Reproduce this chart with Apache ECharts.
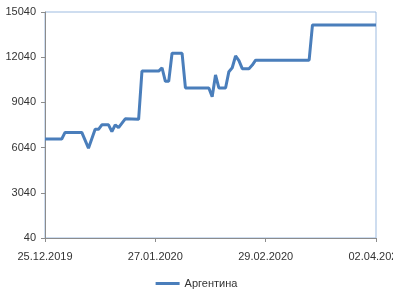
<!doctype html>
<html lang="ru">
<head>
    <meta charset="UTF-8" />
    <title>Аргентина</title>
    <script src="https://cdn.jsdelivr.net/npm/echarts@6/dist/echarts.min.js"></script>
    <style>
        html, body { margin: 0; padding: 0; background: #fff; }
        #chart { width: 393px; height: 296px; }
    </style>
</head>
<body>
    <div id="chart"></div>
    <script type="text/javascript">
        // даты изменения значения (дд.мм.гггг) и значения ряда
        var dates = ['25.12.2019', '30.12.2019', '31.12.2019', '05.01.2020', '07.01.2020', '09.01.2020',
            '10.01.2020', '11.01.2020', '13.01.2020', '14.01.2020', '15.01.2020', '16.01.2020',
            '18.01.2020', '22.01.2020', '23.01.2020', '28.01.2020', '29.01.2020', '30.01.2020',
            '31.01.2020', '01.02.2020', '04.02.2020', '05.02.2020', '12.02.2020', '13.02.2020',
            '14.02.2020', '15.02.2020', '17.02.2020', '18.02.2020', '19.02.2020', '20.02.2020',
            '21.02.2020', '22.02.2020', '24.02.2020', '25.02.2020', '26.02.2020', '13.03.2020',
            '14.03.2020', '02.04.2020'];
        var argentina = [6610, 6610, 7050, 7050, 6000, 7250,
            7250, 7550, 7550, 7100, 7550, 7360,
            7950, 7920, 11120, 11120, 11340, 10440,
            10440, 12300, 12300, 10000, 10000, 9420,
            10860, 10000, 10000, 11080, 11340, 12120,
            11810, 11280, 11280, 11520, 11840, 11840,
            14180, 14180];
        var seriesName = 'Аргентина';
        var startDate = '25.12.2019';
        var endDate = '02.04.2020';
        var dayStep = 33;

        var DAY = 24 * 3600 * 1000;
        function parseDate(s) {
            var p = s.split('.');
            return Date.UTC(+p[2], +p[1] - 1, +p[0]);
        }
        function pad(n) { return (n < 10 ? '0' : '') + n; }
        var t0 = parseDate(startDate);
        var total = Math.round((parseDate(endDate) - t0) / DAY);

        var data = dates.map(function (d, i) {
            return [Math.round((parseDate(d) - t0) / DAY), argentina[i]];
        });

        var chart = echarts.init(document.getElementById('chart'));
        var font = 'Liberation Sans, Arial, sans-serif';

        chart.setOption({
            animation: false,
            grid: {
                left: 45, right: 17, top: 12, bottom: 58,
                containLabel: false,
                outerBoundsMode: 'none',
                show: true,
                borderColor: '#9dbbe0',
                borderWidth: 1
            },
            xAxis: {
                type: 'value',
                min: 0,
                max: total,
                interval: dayStep,
                splitLine: { show: false },
                axisLine: { lineStyle: { color: '#8c8c8c' } },
                axisTick: { show: true, length: 4, lineStyle: { color: '#8c8c8c' } },
                axisLabel: {
                    color: '#333',
                    fontFamily: font,
                    fontSize: 11,
                    margin: 13,
                    hideOverlap: false,
                    formatter: function (v) {
                        var d = new Date(t0 + v * DAY);
                        return pad(d.getUTCDate()) + '.' + pad(d.getUTCMonth() + 1) + '.' + d.getUTCFullYear();
                    }
                }
            },
            yAxis: {
                type: 'value',
                min: 40,
                max: 15040,
                interval: 3000,
                splitLine: { show: false },
                axisLine: { show: true, lineStyle: { color: '#8c8c8c' } },
                axisTick: { show: true, length: 4, lineStyle: { color: '#8c8c8c' } },
                axisLabel: {
                    color: '#333', fontFamily: font, fontSize: 11, margin: 9,
                    formatter: function (v) { return String(v); }
                }
            },
            legend: {
                bottom: 2,
                left: 'center',
                icon: 'rect',
                itemWidth: 24,
                itemHeight: 3,
                itemGap: 3,
                textStyle: { color: '#333', fontFamily: font, fontSize: 11 },
                data: [seriesName]
            },
            series: [{
                name: seriesName,
                type: 'line',
                data: data,
                symbol: 'none',
                lineStyle: { color: '#4a7ebb', width: 3 },
                itemStyle: { color: '#4a7ebb' }
            }]
        });
    </script>
</body>
</html>
